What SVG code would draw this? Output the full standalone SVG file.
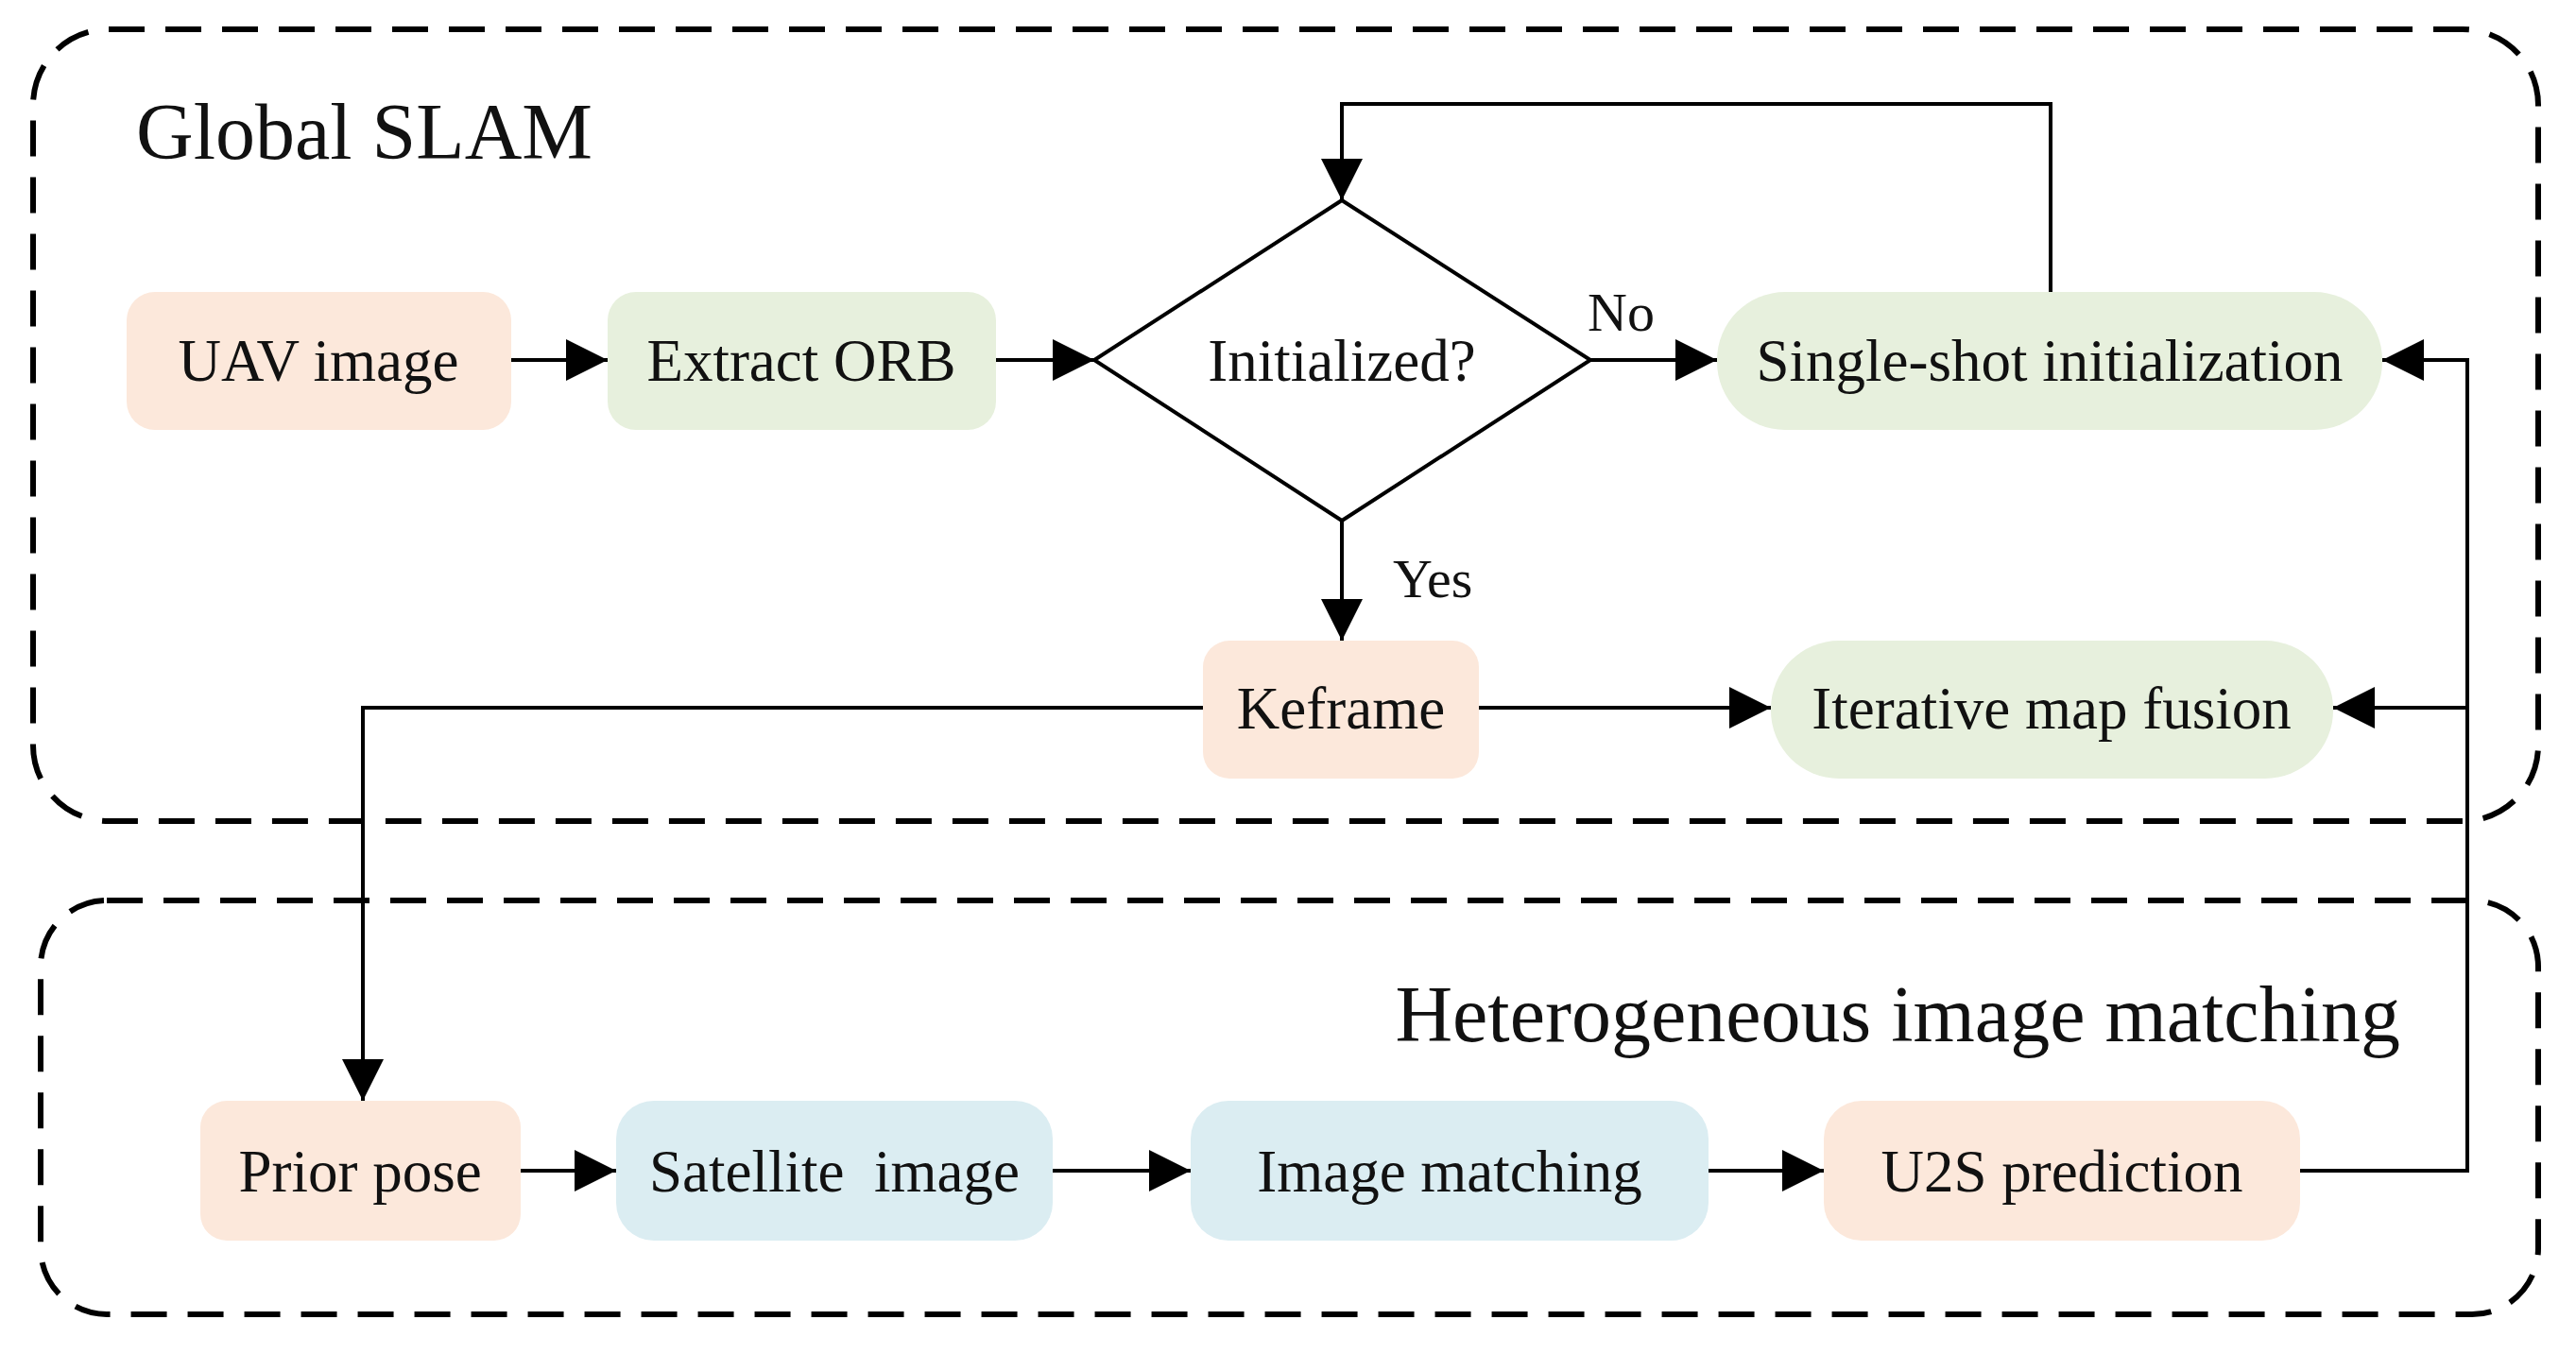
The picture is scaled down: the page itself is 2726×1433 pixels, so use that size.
<svg xmlns="http://www.w3.org/2000/svg" width="2726" height="1433" viewBox="0 0 2726 1433">
<style>
text{font-family:"Liberation Serif","Times New Roman",serif;fill:#111;}
.t{font-size:63px;text-anchor:middle;dominant-baseline:central;}
.h{font-size:84px;}
.c{fill:none;stroke:#000;stroke-width:4;}
.d{fill:none;stroke:#000;stroke-width:6;stroke-dasharray:38 22;}
.o{fill:#fce8db;}.g{fill:#e7f0dd;}.b{fill:#dbedf2;}
</style>
<defs><marker id="m" markerWidth="44" markerHeight="44" refX="44" refY="22" orient="auto" markerUnits="userSpaceOnUse"><path d="M0,0 L44,22 L0,44 z"/></marker></defs>
<rect class="d" x="35" y="31" width="2651" height="838" rx="80"/>
<rect class="d" x="43" y="953" width="2643" height="438" rx="70"/>
<text class="h" x="144" y="168">Global SLAM</text>
<text class="h" x="2540" y="1102" text-anchor="end">Heterogeneous image matching</text>
<g id="connectors" class="c">
<line x1="541" y1="381" x2="643" y2="381" marker-end="url(#m)"/>
<line x1="1054" y1="381" x2="1158" y2="381" marker-end="url(#m)"/>
<line x1="1683" y1="381" x2="1817" y2="381" marker-end="url(#m)"/>
<polyline points="2170,309 2170,110 1420,110 1420,212" marker-end="url(#m)"/>
<line x1="1420" y1="551" x2="1420" y2="678" marker-end="url(#m)"/>
<line x1="1565" y1="749" x2="1874" y2="749" marker-end="url(#m)"/>
<polyline points="1273,749 384,749 384,1165" marker-end="url(#m)"/>
<line x1="551" y1="1239" x2="652" y2="1239" marker-end="url(#m)"/>
<line x1="1114" y1="1239" x2="1260" y2="1239" marker-end="url(#m)"/>
<line x1="1808" y1="1239" x2="1930" y2="1239" marker-end="url(#m)"/>
<polyline points="2434,1239 2611,1239 2611,381 2521,381" marker-end="url(#m)"/>
<line x1="2611" y1="749" x2="2469" y2="749" marker-end="url(#m)"/>
</g>
<text x="1680" y="350" style="font-size:58px">No</text>
<text x="1474" y="632" style="font-size:58px">Yes</text>
<g id="uav"><rect class="o" x="134" y="309" width="407" height="146" rx="30"/><text class="t" x="337" y="382">UAV image</text></g>
<g id="orb"><rect class="g" x="643" y="309" width="411" height="146" rx="30"/><text class="t" x="848" y="382">Extract ORB</text></g>
<g id="init"><polygon points="1420,212 1683,381 1420,551 1158,381" fill="#fff" stroke="#000" stroke-width="4"/><text class="t" x="1420" y="382">Initialized?</text></g>
<g id="single"><rect class="g" x="1817" y="309" width="704" height="146" rx="72"/><text class="t" x="2169" y="382">Single-shot initialization</text></g>
<g id="keframe"><rect class="o" x="1273" y="678" width="292" height="146" rx="28"/><text class="t" x="1419" y="750">Keframe</text></g>
<g id="fusion"><rect class="g" x="1874" y="678" width="595" height="146" rx="72"/><text class="t" x="2171" y="750">Iterative map fusion</text></g>
<g id="prior"><rect class="o" x="212" y="1165" width="339" height="148" rx="28"/><text class="t" x="381" y="1240">Prior pose</text></g>
<g id="sat"><rect class="b" x="652" y="1165" width="462" height="148" rx="40"/><text class="t" x="883" y="1240" xml:space="preserve">Satellite  image</text></g>
<g id="match"><rect class="b" x="1260" y="1165" width="548" height="148" rx="40"/><text class="t" x="1534" y="1240">Image matching</text></g>
<g id="u2s"><rect class="o" x="1930" y="1165" width="504" height="148" rx="40"/><text class="t" x="2182" y="1240">U2S prediction</text></g>
</svg>
